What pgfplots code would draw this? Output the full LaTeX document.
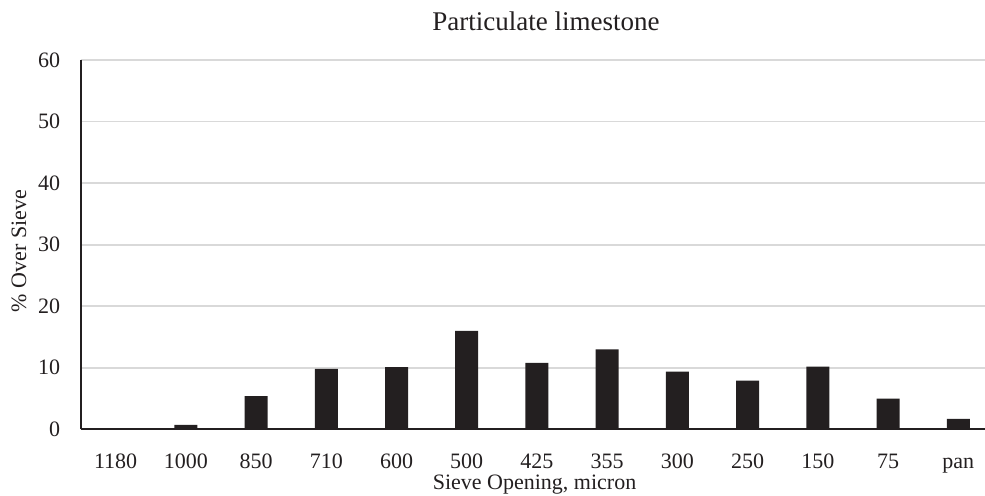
\documentclass[border=0pt]{standalone}
\usepackage{fontspec}
\setmainfont{Liberation Serif}
\usepackage{pgfplots}
\pgfplotsset{compat=1.18}
\definecolor{barblack}{HTML}{231F20}
\definecolor{gridgray}{HTML}{D9D9D9}

\begin{document}
\begin{tikzpicture}
  \begin{axis}[
      at={(40.25pt,33.35pt)}, anchor=south west,
      scale only axis,
      width=452.25pt, height=184.65pt,
      xmin=-0.5, xmax=12.38,
      ymin=0, ymax=60,
      ytick={0,10,...,60},
      xtick={0,...,12},
      xticklabels={1180,1000,850,710,600,500,425,355,300,250,150,75,pan},
      axis x line=bottom, axis y line=left,
      axis line style={barblack, line width=1pt, -},
      x axis line style={-}, y axis line style={-},
      major tick length=0pt,
      ymajorgrids,
      grid style={gridgray, line width=0.9pt},
      /pgf/number format/assume math mode=true,
      tick label style={font=\fontsize{11}{13}\selectfont, text=barblack, inner sep=0pt},
      xticklabel style={anchor=base, yshift=-19.5pt},
      yticklabel style={anchor=east, xshift=-10pt},
      clip=false,
    ]
    \addplot[ybar, bar width=11.5pt, fill=barblack, draw=none] coordinates {
      (0,0) (1,0.7) (2,5.4) (3,9.8) (4,10.1) (5,16.0) (6,10.8)
      (7,13.0) (8,9.35) (9,7.9) (10,10.2) (11,5.0) (12,1.7)
    };
  \end{axis}
  \node[anchor=base, font=\fontsize{13.5}{16}\selectfont, text=barblack] at (273pt,232.6pt) {Particulate limestone};
  \node[anchor=base, font=\fontsize{11}{13}\selectfont, text=barblack, inner sep=0pt] at (267.25pt,3pt) {Sieve Opening, micron};
  \node[rotate=90, font=\fontsize{11}{13}\selectfont, text=barblack, inner sep=0pt] at (9.5pt,122.5pt) {\% Over Sieve};
  \pgfresetboundingbox
  \path[use as bounding box] (0,0) rectangle (492.5pt,248pt);
\end{tikzpicture}
\end{document}
